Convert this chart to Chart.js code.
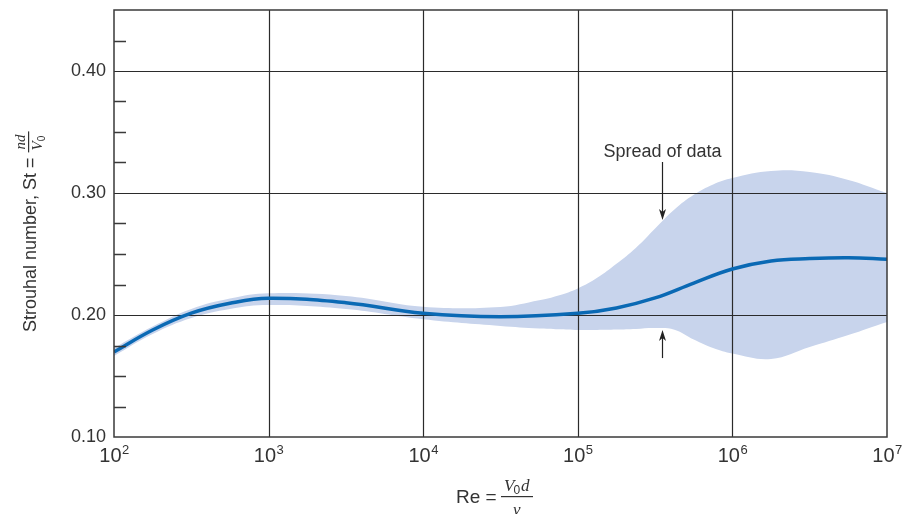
<!DOCTYPE html>
<html>
<head>
<meta charset="utf-8">
<script src="https://cdn.jsdelivr.net/npm/chart.js@4.4.1/dist/chart.umd.min.js"></script>
<style>
html, body { margin: 0; padding: 0; background: #fff; }
</style>
</head>
<body>
<canvas id="stChart" width="902" height="514"></canvas>
<script>
// log10(Re) positions and Strouhal numbers
const lineLogRe = [2, 2.25, 2.5, 2.75, 3, 3.5, 4, 4.5, 5, 5.25, 5.5, 5.75, 6, 6.25, 6.5, 6.75, 7];
const lineSt = [0.1697, 0.1877, 0.2015, 0.2096, 0.2137, 0.2101, 0.2014, 0.1986, 0.2014, 0.2058, 0.2140, 0.2262, 0.2377, 0.2443, 0.2463, 0.2470, 0.2457];

// spread of data band
const bandLogRe = [2, 2.25, 2.5, 2.75, 3, 3.5, 4, 4.5, 4.75, 4.875, 5, 5.125, 5.25, 5.375, 5.5, 5.625, 5.75, 5.875, 6, 6.25, 6.5, 6.75, 7];
const bandUpper = [0.1730, 0.1906, 0.2050, 0.2135, 0.2178, 0.2156, 0.2068, 0.2066, 0.2120, 0.2160, 0.2218, 0.2305, 0.2420, 0.2550, 0.2710, 0.2865, 0.2985, 0.3070, 0.3123, 0.3180, 0.3172, 0.3107, 0.3000];
const bandLower = [0.1664, 0.1844, 0.1975, 0.2049, 0.2082, 0.2049, 0.1965, 0.1910, 0.1889, 0.1883, 0.1877, 0.1878, 0.1881, 0.1886, 0.1893, 0.1880, 0.1800, 0.1730, 0.1685, 0.1640, 0.1738, 0.1836, 0.1943];

const xDecades = [2, 3, 4, 5, 6, 7];
const yMajor = [0.10, 0.20, 0.30, 0.40];
const yMinor = [0.125, 0.15, 0.175, 0.225, 0.25, 0.275, 0.325, 0.35, 0.375, 0.425];

const SANS = '"Liberation Sans", Arial, sans-serif';
const SERIF = '"Liberation Serif", "DejaVu Serif", serif';
const TEXT = '#333';

function toPoints(logs, vals) {
  return logs.map((e, i) => ({ x: Math.pow(10, e), y: vals[i] }));
}

// grid goes over the band but under the curve
const figurePlugin = {
  id: 'figure',
  beforeDatasetDraw(chart, args) {
    if (args.index !== 0) return;
    const { ctx, chartArea: a, scales: { x, y } } = chart;
    ctx.save();
    ctx.strokeStyle = '#2b2b2b';
    ctx.lineWidth = 1.2;
    ctx.beginPath();
    xDecades.slice(1, -1).forEach(e => {
      const px = Math.round(x.getPixelForValue(Math.pow(10, e))) + 0.5;
      ctx.moveTo(px, a.top); ctx.lineTo(px, a.bottom);
    });
    yMajor.slice(1).forEach(v => {
      const py = Math.round(y.getPixelForValue(v)) + 0.5;
      ctx.moveTo(a.left, py); ctx.lineTo(a.right, py);
    });
    ctx.stroke();
    ctx.restore();
  },
  afterDraw(chart) {
    const { ctx, chartArea: a, scales: { x, y } } = chart;
    ctx.save();

    // frame
    ctx.strokeStyle = '#3a3a3a';
    ctx.lineWidth = 1.5;
    ctx.strokeRect(a.left, a.top, a.right - a.left, a.bottom - a.top);

    // minor ticks inside the left edge
    ctx.lineWidth = 1.3;
    ctx.beginPath();
    yMinor.forEach(v => {
      const py = Math.round(y.getPixelForValue(v)) + 0.5;
      ctx.moveTo(a.left, py); ctx.lineTo(a.left + 12, py);
    });
    ctx.stroke();

    // x tick labels 10^n
    ctx.fillStyle = TEXT;
    ctx.textBaseline = 'alphabetic';
    ctx.textAlign = 'left';
    xDecades.forEach(e => {
      const px = x.getPixelForValue(Math.pow(10, e));
      ctx.font = '20px ' + SANS;
      const wb = ctx.measureText('10').width;
      ctx.font = '13px ' + SANS;
      const ws = ctx.measureText(String(e)).width;
      const x0 = px - (wb + ws) / 2;
      ctx.font = '20px ' + SANS;
      ctx.fillText('10', x0, 462);
      ctx.font = '13px ' + SANS;
      ctx.fillText(String(e), x0 + wb + 0.5, 454);
    });

    // x axis title: Re = V0 d / nu
    ctx.font = '19px ' + SANS;
    ctx.fillText('Re =', 456, 503);
    const barL = 501, barR = 533;
    ctx.fillRect(barL, 496, barR - barL, 1.2);
    ctx.font = 'italic 17px ' + SERIF;
    ctx.fillText('V', 504, 491);
    const wV = ctx.measureText('V').width;
    ctx.font = '12px ' + SANS;
    ctx.fillText('0', 504 + wV - 1, 494);
    const w0 = ctx.measureText('0').width;
    ctx.font = 'italic 17px ' + SERIF;
    ctx.fillText('d', 504 + wV + w0, 491);
    ctx.fillText('\u03bd', 513, 515);

    // y axis title, rotated
    ctx.save();
    ctx.translate(36, 332);
    ctx.rotate(-Math.PI / 2);
    ctx.font = '18px ' + SANS;
    const main = 'Strouhal number, St = ';
    ctx.fillText(main, 0, 0);
    const u = ctx.measureText(main).width;
    ctx.fillRect(u, -8, 21, 1.2);
    ctx.font = 'italic 15px ' + SERIF;
    ctx.fillText('nd', u + 3, -11);
    ctx.fillText('V', u + 2, 6);
    const wv = ctx.measureText('V').width;
    ctx.font = '10px ' + SANS;
    ctx.fillText('0', u + 2 + wv, 9);
    ctx.restore();

    // "Spread of data" note with arrows
    const ax = Math.round(x.getPixelForValue(352000)) + 0.5;
    ctx.font = '18px ' + SANS;
    ctx.textAlign = 'center';
    ctx.fillText('Spread of data', ax, 157);
    ctx.strokeStyle = '#222';
    ctx.fillStyle = '#222';
    ctx.lineWidth = 1.2;
    const drawArrow = (from, to) => {
      const y0 = y.getPixelForValue(from), y1 = y.getPixelForValue(to);
      const dir = Math.sign(y1 - y0);
      ctx.beginPath();
      ctx.moveTo(ax, y0); ctx.lineTo(ax, y1 - dir * 6);
      ctx.stroke();
      ctx.beginPath();
      ctx.moveTo(ax, y1);
      ctx.lineTo(ax - 3.5, y1 - dir * 11);
      ctx.lineTo(ax, y1 - dir * 8);
      ctx.lineTo(ax + 3.5, y1 - dir * 11);
      ctx.closePath();
      ctx.fill();
    };
    drawArrow(0.3254, 0.2779);
    drawArrow(0.1647, 0.1877);

    ctx.restore();
  }
};

new Chart(document.getElementById('stChart'), {
  type: 'line',
  data: {
    datasets: [{
      label: 'St',
      data: toPoints(lineLogRe, lineSt),
      borderColor: '#0a69b4',
      borderWidth: 3.5,
      pointRadius: 0,
      tension: 0.4,
      fill: false
    }, {
      label: 'upper',
      data: toPoints(bandLogRe, bandUpper),
      borderWidth: 0,
      borderColor: 'rgba(0,0,0,0)',
      backgroundColor: 'rgb(200, 212, 236)',
      pointRadius: 0,
      tension: 0.4,
      fill: '+1'
    }, {
      label: 'lower',
      data: toPoints(bandLogRe, bandLower),
      borderWidth: 0,
      borderColor: 'rgba(0,0,0,0)',
      pointRadius: 0,
      tension: 0.4,
      fill: false
    }]
  },
  options: {
    responsive: false,
    animation: false,
    devicePixelRatio: 1,
    layout: { padding: { top: 10, right: 15, left: 0, bottom: 0 } },
    plugins: { legend: { display: false }, tooltip: { enabled: false } },
    scales: {
      x: {
        type: 'logarithmic',
        min: 100,
        max: 1e7,
        afterBuildTicks: s => { s.ticks = xDecades.map(e => ({ value: Math.pow(10, e) })); },
        afterFit: s => { s.height = 77; s.paddingLeft = 0; s.paddingRight = 0; },
        ticks: { display: false },
        grid: { display: false, drawTicks: false },
        border: { display: false }
      },
      y: {
        min: 0.10,
        max: 0.45,
        afterBuildTicks: s => { s.ticks = yMajor.map(v => ({ value: v })); },
        afterFit: s => { s.width = 114; s.paddingTop = 0; s.paddingBottom = 0; },
        ticks: {
          color: TEXT,
          font: { family: SANS, size: 18 },
          padding: 8,
          callback: v => v.toFixed(2)
        },
        grid: { display: false, drawTicks: false },
        border: { display: false }
      }
    }
  },
  plugins: [figurePlugin]
});
</script>
</body>
</html>
